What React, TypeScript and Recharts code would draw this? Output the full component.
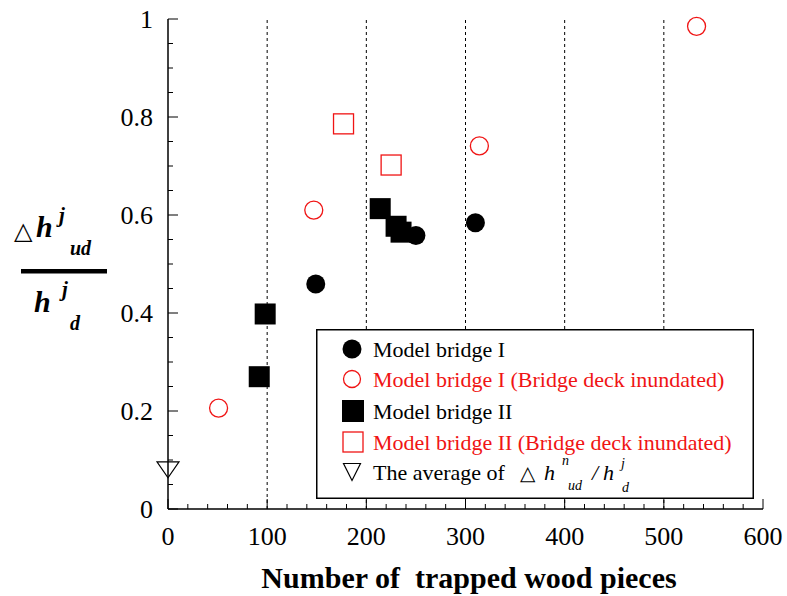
import React from "react";
import { ScatterChart, Scatter, XAxis, YAxis, ReferenceLine, Legend } from "recharts";

const FONT = "'Liberation Serif', 'Times New Roman', 'DejaVu Serif', serif";
const SYM = "'DejaVu Sans', sans-serif";
const RED = "#f01414";

// Model bridge I
const bridgeIX = [149, 250, 310];
const bridgeIY = [0.459, 0.558, 0.584];
// Model bridge I (bridge deck inundated)
const bridgeIWetX = [51, 147, 314, 533];
const bridgeIWetY = [0.206, 0.61, 0.741, 0.985];
// Model bridge II
const bridgeIIX = [92, 98, 214, 230, 235];
const bridgeIIY = [0.27, 0.398, 0.613, 0.577, 0.565];
// Model bridge II (bridge deck inundated)
const bridgeIIWetX = [177, 225];
const bridgeIIWetY = [0.786, 0.702];
// average of dh^n_ud / h^j_d
const averageX = [0];
const averageY = [0.08];

const xMajorTicks = [0, 100, 200, 300, 400, 500, 600];
const xTickLabels = ["0", "100", "200", "300", "400", "500", "600"];
const yMajorTicks = [0, 0.2, 0.4, 0.6, 0.8, 1];
const yTickLabels = ["0", "0.2", "0.4", "0.6", "0.8", "1"];
const gridX = [100, 200, 300, 400, 500];

const xMinorTicks = Array.from({ length: 31 }, (_, i) => i * 20);
const yMinorTicks = Array.from({ length: 21 }, (_, i) => Math.round(i * 5) / 100);

const toPoints = (xs: number[], ys: number[]) => xs.map((x, i) => ({ x, y: ys[i] }));

const FilledCircle = ({ cx, cy, r = 9.5 }: any) => <circle cx={cx} cy={cy} r={r} fill="#000" />;
const OpenCircle = ({ cx, cy, r = 9 }: any) => (
  <circle cx={cx} cy={cy} r={r} fill="none" stroke={RED} strokeWidth={1.3} />
);
const FilledSquare = ({ cx, cy, s = 21 }: any) => (
  <rect x={cx - s / 2} y={cy - s / 2} width={s} height={s} fill="#000" />
);
const OpenSquare = ({ cx, cy, s = 20 }: any) => (
  <rect x={cx - s / 2} y={cy - s / 2} width={s} height={s} fill="none" stroke={RED} strokeWidth={1.3} />
);
const DownTriangle = ({ cx, cy, w = 22, h = 16 }: any) => (
  <path
    d={`M${cx - w / 2},${cy - h / 2}L${cx + w / 2},${cy - h / 2}L${cx},${cy + h / 2}Z`}
    fill="none"
    stroke="#000"
    strokeWidth={1.2}
  />
);

const serif = { fontFamily: FONT };
const isMajorX = (v: number) => xMajorTicks.includes(v);
const yMajorIndex = (v: number) => yMajorTicks.findIndex((t) => Math.abs(t - v) < 1e-6);

function makeTick(side: "bottom" | "top" | "left" | "right") {
  return (props: any) => {
    const { x, y, payload } = props;
    const v = payload.value;
    if (side === "bottom" || side === "top") {
      const len = isMajorX(v) ? 10 : 5;
      const dir = side === "bottom" ? -1 : 1;
      const idx = xMajorTicks.indexOf(v);
      return (
        <g>
          <line x1={x} y1={y} x2={x} y2={y + dir * len} stroke="#000" strokeWidth={1} />
          {side === "bottom" && idx >= 0 && (
            <text x={x} y={y + 36} textAnchor="middle" style={serif} fontSize={26} fill="#000">
              {xTickLabels[idx]}
            </text>
          )}
        </g>
      );
    }
    const idx = yMajorIndex(v);
    const len = idx >= 0 ? 10 : 5;
    const dir = side === "left" ? 1 : -1;
    return (
      <g>
        <line x1={x} y1={y} x2={x + dir * len} y2={y} stroke="#000" strokeWidth={1} />
        {side === "left" && idx >= 0 && (
          <text x={x - 15} y={y + 9} textAnchor="end" style={serif} fontSize={26} fill="#000">
            {yTickLabels[idx]}
          </text>
        )}
      </g>
    );
  };
}

const legendRows = [
  { label: "Model bridge I", color: "#000" },
  { label: "Model bridge I (Bridge deck inundated)", color: RED },
  { label: "Model bridge II", color: "#000" },
  { label: "Model bridge II (Bridge deck inundated)", color: RED },
];

function LegendBox() {
  const rowY = [20, 50, 82, 113, 143];
  const mx = 36;
  const tx = 57;
  return (
    <svg width={438} height={170} style={{ display: "block" }}>
      <rect x={0.75} y={0.75} width={436.5} height={168.5} fill="#fff" stroke="#000" strokeWidth={1.5} />
      <FilledCircle cx={mx} cy={rowY[0]} r={9.5} />
      <OpenCircle cx={mx} cy={rowY[1]} r={8.5} />
      <FilledSquare cx={mx + 1} cy={rowY[2]} s={22} />
      <OpenSquare cx={mx + 1} cy={rowY[3]} s={20} />
      <DownTriangle cx={mx} cy={rowY[4]} w={17} h={17} />
      {legendRows.map((r, i) => (
        <text key={r.label} x={tx} y={rowY[i] + 7.5} style={serif} fontSize={22} fill={r.color}>
          {r.label}
        </text>
      ))}
      <g fill="#000">
        <text x={tx} y={rowY[4] + 7.5} style={serif} fontSize={22}>The average of</text>
        <text x={204} y={rowY[4] + 7.5} style={{ fontFamily: SYM }} fontSize={20}>△</text>
        <text x={228} y={rowY[4] + 7.5} style={serif} fontSize={22} fontStyle="italic">h</text>
        <text x={246} y={136} style={serif} fontSize={14} fontStyle="italic">n</text>
        <text x={252} y={161} style={serif} fontSize={14} fontStyle="italic">ud</text>
        <text x={276} y={rowY[4] + 7.5} style={serif} fontSize={22} fontStyle="italic">/</text>
        <text x={287} y={rowY[4] + 7.5} style={serif} fontSize={22} fontStyle="italic">h</text>
        <text x={305} y={139} style={serif} fontSize={14} fontStyle="italic">j</text>
        <text x={306} y={163} style={serif} fontSize={14} fontStyle="italic">d</text>
      </g>
    </svg>
  );
}

export default function App() {
  return (
    <div
      style={{
        position: "absolute",
        left: 0,
        top: 0,
        width: 787,
        height: 596,
        background: "#fff",
        fontFamily: FONT,
      }}
    >
      <ScatterChart width={787} height={596} margin={{ top: 19, right: 24, bottom: 0, left: 0 }}>
        <XAxis
          type="number"
          dataKey="x"
          domain={[0, 600]}
          ticks={xMinorTicks}
          interval={0}
          height={87}
          tickSize={0}
          tickMargin={0}
          axisLine={{ stroke: "#000", strokeWidth: 1.5 }}
          tick={makeTick("bottom")}
        />
        <XAxis
          xAxisId="top"
          orientation="top"
          type="number"
          dataKey="x"
          domain={[0, 600]}
          ticks={xMinorTicks}
          interval={0}
          height={0}
          tickSize={0}
          tickMargin={0}
          axisLine={{ stroke: "#000", strokeWidth: 1.5 }}
          tick={makeTick("top")}
        />
        <YAxis
          type="number"
          dataKey="y"
          domain={[0, 1]}
          ticks={yMinorTicks}
          interval={0}
          width={168}
          tickSize={0}
          tickMargin={0}
          axisLine={{ stroke: "#000", strokeWidth: 1.5 }}
          tick={makeTick("left")}
        />
        <YAxis
          yAxisId="right"
          orientation="right"
          type="number"
          dataKey="y"
          domain={[0, 1]}
          ticks={yMinorTicks}
          interval={0}
          width={0}
          tickSize={0}
          tickMargin={0}
          axisLine={{ stroke: "#000", strokeWidth: 1.5 }}
          tick={makeTick("right")}
        />
        {gridX.map((v) => (
          <ReferenceLine key={v} x={v} stroke="#000" strokeWidth={1} strokeDasharray="3 3" />
        ))}
        <Scatter
          name="Model bridge II"
          data={toPoints(bridgeIIX, bridgeIIY)}
          shape={(p: any) => <FilledSquare cx={p.cx} cy={p.cy} />}
          isAnimationActive={false}
        />
        <Scatter
          name="Model bridge II (Bridge deck inundated)"
          data={toPoints(bridgeIIWetX, bridgeIIWetY)}
          shape={(p: any) => <OpenSquare cx={p.cx} cy={p.cy} />}
          isAnimationActive={false}
        />
        <Scatter
          name="Model bridge I"
          data={toPoints(bridgeIX, bridgeIY)}
          shape={(p: any) => <FilledCircle cx={p.cx} cy={p.cy} />}
          isAnimationActive={false}
        />
        <Scatter
          name="Model bridge I (Bridge deck inundated)"
          data={toPoints(bridgeIWetX, bridgeIWetY)}
          shape={(p: any) => <OpenCircle cx={p.cx} cy={p.cy} />}
          isAnimationActive={false}
        />
        <Scatter
          name="The average"
          data={toPoints(averageX, averageY)}
          shape={(p: any) => <DownTriangle cx={p.cx} cy={p.cy} />}
          isAnimationActive={false}
        />
        <Legend
          layout="vertical"
          align="center"
          verticalAlign="middle"
          content={() => <LegendBox />}
          wrapperStyle={{ left: 316, top: 329, width: 438, height: 170 }}
        />
      </ScatterChart>
      <svg
        width={787}
        height={596}
        style={{ position: "absolute", left: 0, top: 0, pointerEvents: "none" }}
      >
        <g fill="#000">
          <text x={14} y={239} style={{ fontFamily: SYM }} fontSize={24}>△</text>
          <text x={36} y={237} style={serif} fontSize={30} fontWeight="bold" fontStyle="italic">h</text>
          <text x={59} y={222} style={serif} fontSize={21} fontWeight="bold" fontStyle="italic">j</text>
          <text x={70} y={255} style={serif} fontSize={20} fontWeight="bold" fontStyle="italic">ud</text>
          <rect x={21} y={269} width={86} height={4.5} fill="#000" />
          <text x={34} y={312} style={serif} fontSize={30} fontWeight="bold" fontStyle="italic">h</text>
          <text x={62} y={296} style={serif} fontSize={21} fontWeight="bold" fontStyle="italic">j</text>
          <text x={70} y={330} style={serif} fontSize={20} fontWeight="bold" fontStyle="italic">d</text>
          <text
            x={469}
            y={588}
            textAnchor="middle"
            fontSize={30}
            fontWeight="bold"
            style={{ fontFamily: FONT, whiteSpace: "pre" }}
          >
            Number of  trapped wood pieces
          </text>
        </g>
      </svg>
    </div>
  );
}
